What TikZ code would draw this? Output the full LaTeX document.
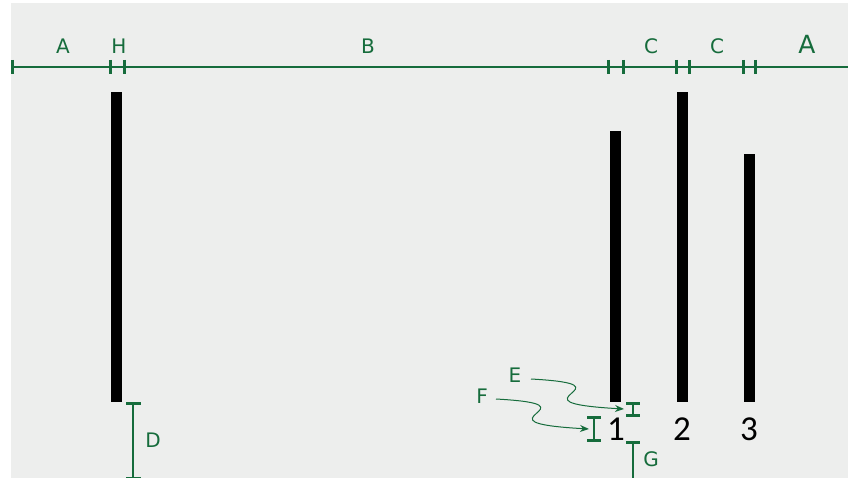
\documentclass[tikz,border=0pt]{standalone}
\usepackage{fontspec}
\setmainfont{DejaVu Sans}
\newfontfamily\digitfont{Carlito}
\usetikzlibrary{arrows.meta}
\definecolor{dimgreen}{RGB}{22,108,60}
\definecolor{paper}{RGB}{237,238,237}

\begin{document}
\begin{tikzpicture}[x=1pt,y=-1pt,
  dimline/.style={draw=dimgreen,line width=2pt},
  tickmark/.style={draw=dimgreen,line width=3pt},
  thinline/.style={draw=dimgreen,line width=1.5pt},
  lbl/.style={text=dimgreen,font=\fontsize{20}{22}\selectfont,inner sep=0pt},
  biglbl/.style={text=dimgreen,font=\fontsize{25}{27}\selectfont,inner sep=0pt},
  num/.style={text=black,font=\digitfont\fontsize{35}{38}\selectfont,inner sep=0pt},
  bar/.style={fill=black},
  callout/.style={draw=dimgreen,line width=1pt,-{Stealth[length=9pt,width=7pt]}}]

\useasboundingbox (0,0) rectangle (848,478);
\fill[paper] (11,3) rectangle (848,478);

% bars
\fill[bar] (111,92)  rectangle (122,402);
\fill[bar] (610,131) rectangle (621,402);
\fill[bar] (677,92)  rectangle (688,402);
\fill[bar] (744,154) rectangle (755,402);

% top dimension chain
\draw[dimline] (12,67) -- (848,67);
\foreach \x in {12,110,124,608,623,676,689,743,755}
  \draw[tickmark] (\x,60) -- (\x,74);

\node[lbl] (lA1) at (63,46) {A};
\node[lbl] (lH) at (119,46) {H};
\node[lbl] (lB) at (368,46) {B};
\node[lbl] (lC1) at (651,46) {C};
\node[lbl] (lC2) at (717,46) {C};
\node[biglbl] (lA2) at (807,44) {A};

% bar numbers
\node[num] (n1) at (616,429) {1};
\node[num] (n2) at (682,429) {2};
\node[num] (n3) at (749,429) {3};

% D: clearance under the first bar
\draw[thinline] (133,403) -- (133,478);
\draw[tickmark] (126,403) -- (141,403);
\draw[tickmark] (126,478) -- (141,478);
\node[lbl] (lD) at (153,440) {D};

% E: small gap under bar 1
\coordinate (e0) at (633,403);
\coordinate (e1) at (633,415);
\draw[dimgreen,line width=2.5pt] (e0) -- (e1);
\draw[tickmark] (626,403) -- (640,403);
\draw[tickmark] (626,415) -- (640,415);

% F: height of the number
\coordinate (f0) at (594,417);
\coordinate (f1) at (594,440);
\draw[dimgreen,line width=2.5pt] (f0) -- (f1);
\draw[tickmark] (587,417) -- (601,417);
\draw[tickmark] (587,440) -- (601,440);

% G: space below the number
\draw[thinline] (633,442) -- (633,478);
\draw[tickmark] (626,442) -- (640,442);
\node[lbl] (lG) at (651,459) {G};

% callouts
\node[lbl] (lE) at (515,375) {E};
\node[lbl] (lF) at (482,396) {F};
\coordinate (eS) at (531,379);
\coordinate (eT) at (624,409);
\coordinate (fS) at (496,399);
\coordinate (fT) at (589,429);
\draw[callout] (eS) .. controls (640,385) and (500,402) .. (eT);
\draw[callout] (fS) .. controls (605,405) and (465,422) .. (fT);
\end{tikzpicture}
\end{document}
